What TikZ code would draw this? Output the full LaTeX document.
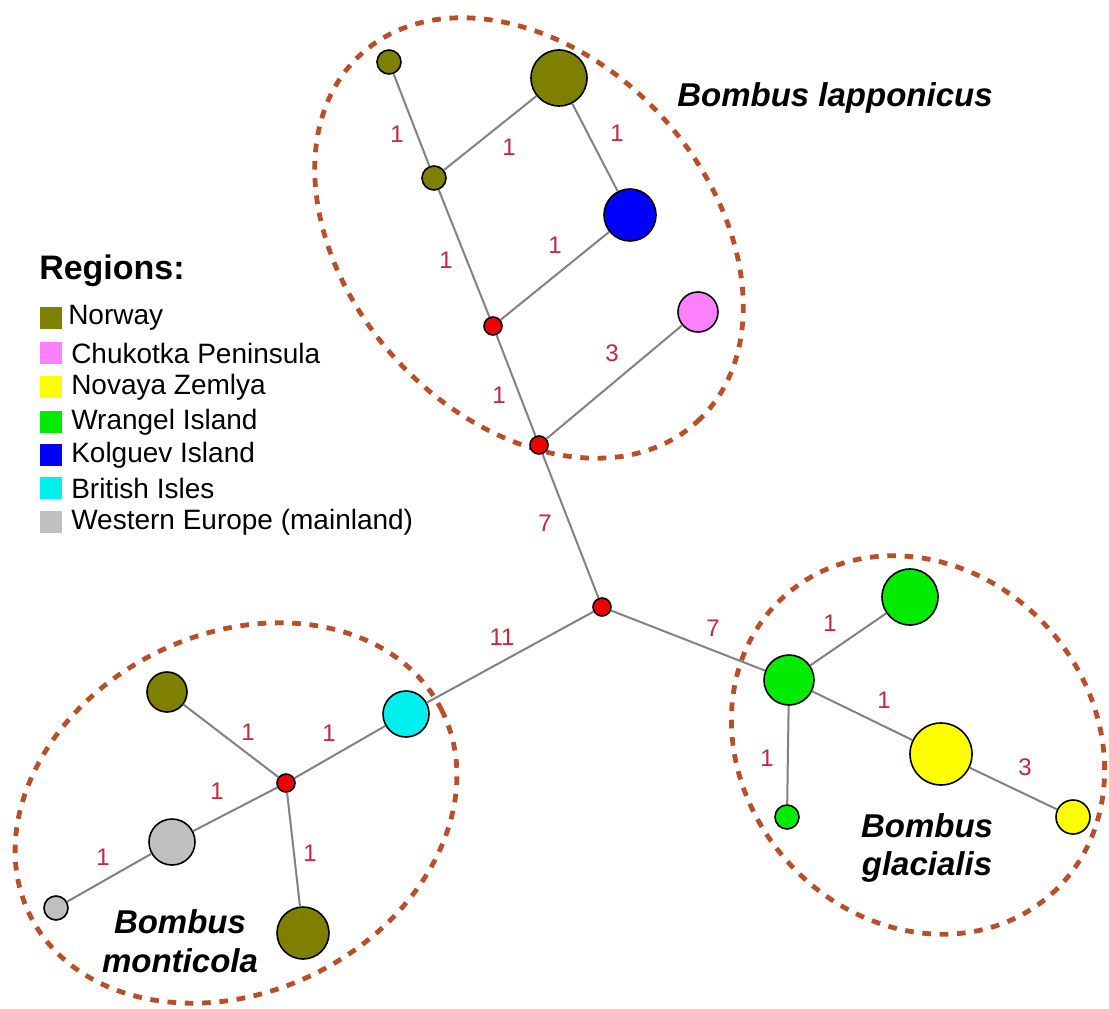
\documentclass[tikz,border=0pt]{standalone}
\usepackage{fontspec}
\setmainfont{Liberation Sans}
\definecolor{olivec}{RGB}{128,128,0}
\definecolor{pinkc}{RGB}{255,128,255}
\definecolor{yellowc}{RGB}{255,255,0}
\definecolor{greenc}{RGB}{0,235,0}
\definecolor{bluec}{RGB}{0,0,255}
\definecolor{cyanc}{RGB}{0,240,240}
\definecolor{grayc}{RGB}{192,192,192}
\definecolor{redc}{RGB}{240,0,0}
\definecolor{rust}{RGB}{183,80,40}
\definecolor{labc}{RGB}{195,40,60}
\definecolor{edgec}{RGB}{130,130,130}
\begin{document}
\begin{tikzpicture}[x=0.75pt,y=-0.75pt,
  hap/.style={circle,draw=black,line width=1.2pt,inner sep=0pt,minimum size=#1},
  edge/.style={draw=edgec,line width=1.5pt},
  ell/.style={draw=rust,line width=3.6pt,dash pattern=on 6.5pt off 6.5pt},
  lab/.style={text=labc,font=\fontsize{18}{20}\selectfont,inner sep=0pt},
  sp/.style={font=\fontsize{24.75}{29}\selectfont\bfseries\itshape,align=center,inner sep=0pt},
  leg/.style={anchor=west,font=\fontsize{21}{24}\selectfont,inner sep=0pt},
  sq/.style={minimum size=16.5pt,inner sep=0pt}]
\useasboundingbox[fill=white] (0,0) rectangle (1109,1009);

% ellipses
\draw[ell, rotate around={-47.5:(529,238)}] (529,238) ellipse [x radius=186.75pt, y radius=135pt];
\draw[ell, rotate around={26.4:(236,813)}] (236,813) ellipse [x radius=172.5pt, y radius=134.25pt];
\draw[ell, rotate around={-48:(918,745)}] (918,745) ellipse [x radius=150pt, y radius=131.25pt];

% top cluster
\node[hap=18pt,fill=olivec] (L1) at (389,62) {};
\node[hap=42pt,fill=olivec] (L2) at (559,78) {};
\node[hap=18pt,fill=olivec] (L3) at (434,178) {};
\node[hap=39pt,fill=bluec] (L4) at (630,215) {};
\node[hap=13.5pt,fill=redc] (L5) at (493,326) {};
\node[hap=30pt,fill=pinkc] (L6) at (698,312) {};
\node[hap=13.5pt,fill=redc] (L7) at (539,445) {};
\node[hap=13.5pt,fill=redc] (C) at (602,607) {};

% right cluster
\node[hap=42pt,fill=greenc] (G1) at (910,597) {};
\node[hap=37.5pt,fill=greenc] (G2) at (789,680) {};
\node[hap=46.5pt,fill=yellowc] (Y1) at (941,754) {};
\node[hap=18pt,fill=greenc] (G3) at (787,817) {};
\node[hap=25.5pt,fill=yellowc] (Y2) at (1073,817) {};

% left cluster
\node[hap=30pt,fill=olivec] (M1) at (167,692) {};
\node[hap=34.5pt,fill=cyanc] (M2) at (406,714) {};
\node[hap=13.5pt,fill=redc] (M3) at (286,783) {};
\node[hap=34.5pt,fill=grayc] (M4) at (172,842) {};
\node[hap=18pt,fill=grayc] (M5) at (56,908) {};
\node[hap=39pt,fill=olivec] (M6) at (303,933) {};

% edges
\draw[edge] (L1) -- (L3);
\draw[edge] (L3) -- (L2);
\draw[edge] (L2) -- (L4);
\draw[edge] (L3) -- (L5);
\draw[edge] (L5) -- (L4);
\draw[edge] (L5) -- (L7);
\draw[edge] (L7) -- (L6);
\draw[edge] (L7) -- (C);
\draw[edge] (C) -- (G2);
\draw[edge] (C) -- (M2);
\draw[edge] (G2) -- (G1);
\draw[edge] (G2) -- (Y1);
\draw[edge] (G2) -- (G3);
\draw[edge] (Y1) -- (Y2);
\draw[edge] (M2) -- (M3);
\draw[edge] (M3) -- (M1);
\draw[edge] (M3) -- (M4);
\draw[edge] (M4) -- (M5);
\draw[edge] (M3) -- (M6);

% edge labels
\node[lab] (e1) at (397,134) {1};
\node[lab] (e2) at (509,147) {1};
\node[lab] (e3) at (617,133) {1};
\node[lab] (e4) at (446,260) {1};
\node[lab] (e5) at (555,245) {1};
\node[lab] (e6) at (612,353) {3};
\node[lab] (e7) at (499,395) {1};
\node[lab] (e8) at (545,523) {7};
\node[lab] (e9) at (502,637) {11};
\node[lab] (e10) at (713,628) {7};
\node[lab] (e11) at (830,623) {1};
\node[lab] (e12) at (884,700) {1};
\node[lab] (e13) at (767,758) {1};
\node[lab] (e14) at (1025,767) {3};
\node[lab] (e15) at (248,732) {1};
\node[lab] (e16) at (329,733) {1};
\node[lab] (e17) at (217,791) {1};
\node[lab] (e18) at (103,857) {1};
\node[lab] (e19) at (310,853) {1};

% species labels
\node[sp] (s1) at (835,98) {Bombus lapponicus};
\node[sp] (s2) at (180,941) {Bombus\\monticola};
\node[sp] (s3) at (927,848) {Bombus\\glacialis};

% legend
\node[anchor=west,inner sep=0pt,font=\fontsize{25.5}{28}\selectfont\bfseries] (rt) at (39,271) {Regions:};
\node[sq,fill=olivec] (q1) at (50.5,318) {};
\node[sq,fill=pinkc] (q2) at (50.5,353) {};
\node[sq,fill=yellowc] (q3) at (50.5,387) {};
\node[sq,fill=greenc] (q4) at (50.5,422) {};
\node[sq,fill=bluec] (q5) at (50.5,455) {};
\node[sq,fill=cyanc] (q6) at (50.5,488) {};
\node[sq,fill=grayc] (q7) at (50.5,522) {};
\node[leg] (t1) at (68,318) {Norway};
\node[leg] (t2) at (71,353) {Chukotka Peninsula};
\node[leg] (t3) at (71,387) {Novaya Zemlya};
\node[leg] (t4) at (71,422) {Wrangel Island};
\node[leg] (t5) at (71,455) {Kolguev Island};
\node[leg] (t6) at (71,488) {British Isles};
\node[leg] (t7) at (71,522) {Western Europe (mainland)};
\end{tikzpicture}
\end{document}
